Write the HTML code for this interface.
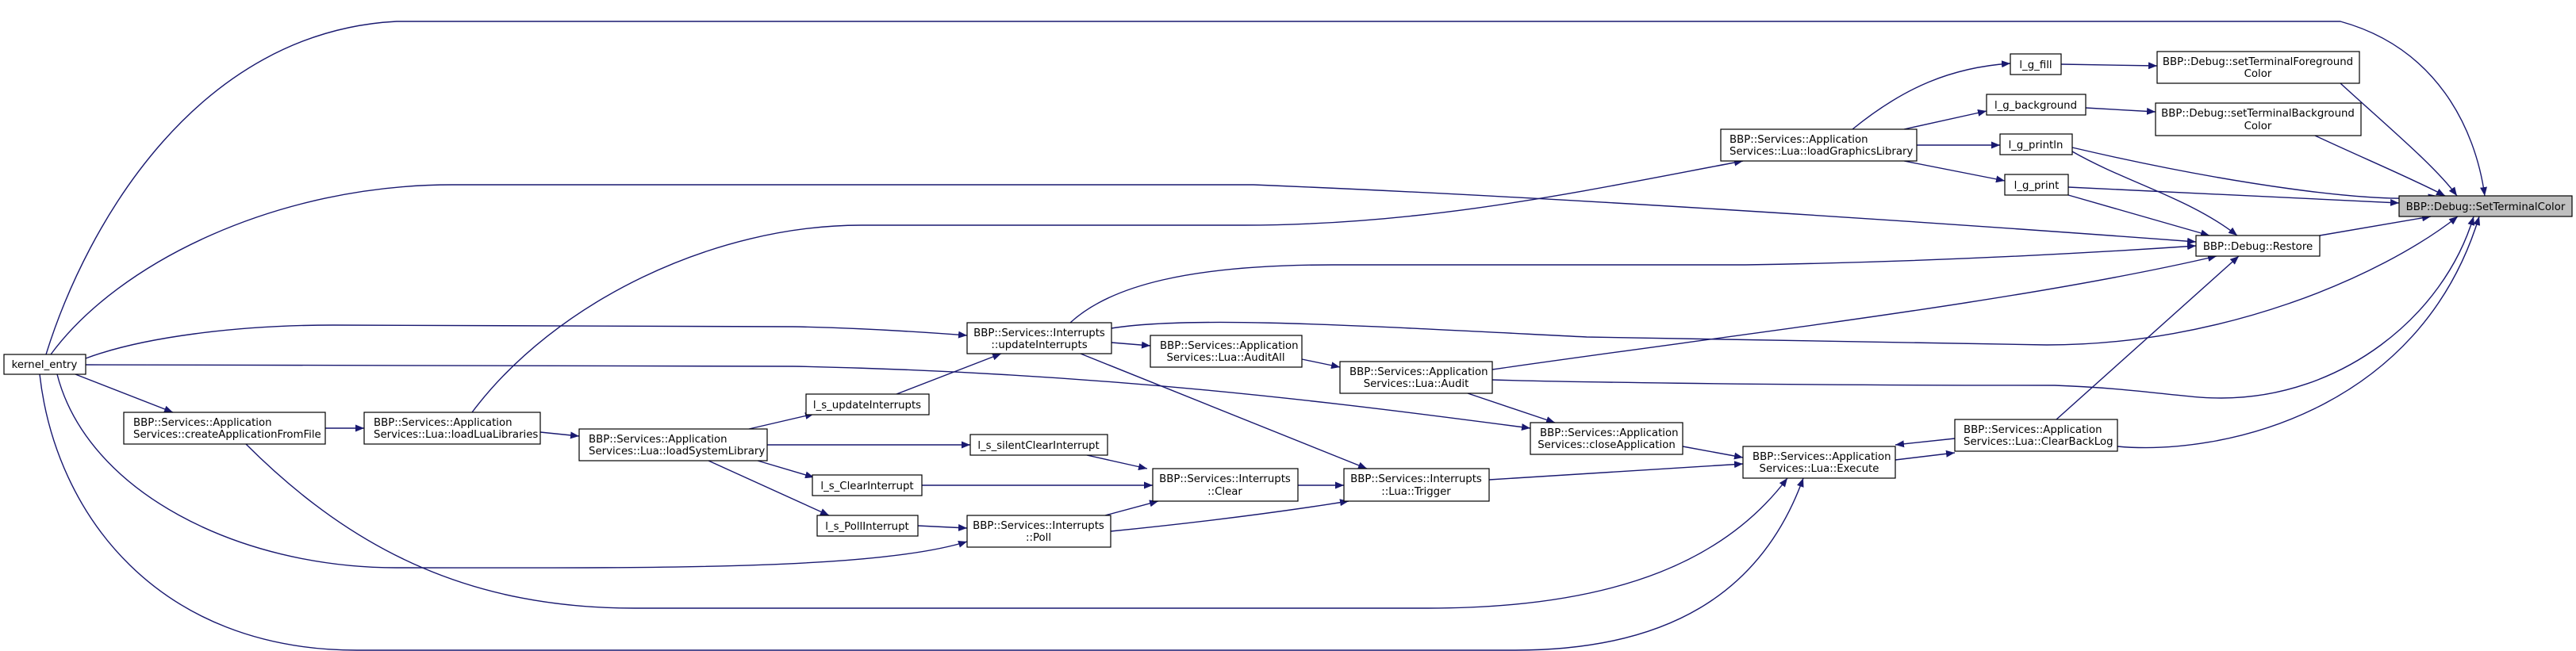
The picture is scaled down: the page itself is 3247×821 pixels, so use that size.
<!DOCTYPE html>
<html><head><meta charset="utf-8"><style>
html,body{margin:0;padding:0;background:#fff}
svg{display:block}
text{font-family:"DejaVu Sans","Liberation Sans",sans-serif;font-size:13.3px;fill:#000}
.e{fill:none;stroke:#191970;stroke-width:1.4;marker-end:url(#a)}
rect{fill:#fff;stroke:#000;stroke-width:1.2}
</style></head><body>
<svg width="3247" height="821" viewBox="0 0 3247 821" xmlns="http://www.w3.org/2000/svg">
<defs><marker id="a" markerUnits="userSpaceOnUse" markerWidth="12" markerHeight="9" refX="11" refY="4.5" orient="auto"><path d="M0,0 L11,4.5 L0,9 z" fill="#191970"/></marker></defs>
<g>
<path class="e" d="M58,447 C110,280 250,40 500,27 L2950,27 C3070,60 3120,160 3132,247"/>
<path class="e" d="M64,447 C150,330 350,233 570,233 L1580,233 C2000,250 2500,285 2768,305"/>
<path class="e" d="M108,452 C180,425 300,410 420,410 L1000,412 C1100,414 1180,420 1219,423"/>
<path class="e" d="M108,460 L1000,462 C1400,470 1700,510 1929,540"/>
<path class="e" d="M95,472 L218,520"/>
<path class="e" d="M72,472 C110,620 300,716 500,716 C800,716 1100,720 1219,683"/>
<path class="e" d="M50,472 C70,650 200,820 450,820 L1910,820 C2100,820 2220,750 2273,603"/>
<path class="e" d="M310,560 C450,700 600,767 800,767 L1800,767 C2050,767 2180,700 2253,603"/>
<path class="e" d="M410,540 L459,540"/>
<path class="e" d="M681,545 L730,550"/>
<path class="e" d="M595,520 C700,380 900,284 1086,284 L1568,284 C1800,284 2000,240 2197,203"/>
<path class="e" d="M944,541 L1026,522"/>
<path class="e" d="M967,561 L1223,561"/>
<path class="e" d="M955,581 L1026,602"/>
<path class="e" d="M893,581 L1045,650"/>
<path class="e" d="M1130,497 L1262,446"/>
<path class="e" d="M1370,574 L1446,591"/>
<path class="e" d="M1162,612 L1453,612"/>
<path class="e" d="M1157,663 L1219,666"/>
<path class="e" d="M1393,650 L1460,632"/>
<path class="e" d="M1400,670 C1550,655 1650,640 1700,632"/>
<path class="e" d="M1636,612 L1694,612"/>
<path class="e" d="M1401,432 L1450,436"/>
<path class="e" d="M1349,407 C1400,360 1500,334 1680,334 L2200,334 C2450,330 2650,318 2768,310"/>
<path class="e" d="M1401,414 C1500,398 1700,410 2000,425 L2580,435 C2800,435 3000,350 3098,273"/>
<path class="e" d="M1362,446 L1723,591"/>
<path class="e" d="M1641,453 L1689,463"/>
<path class="e" d="M1881,466 C2200,420 2550,380 2794,323"/>
<path class="e" d="M1881,479 C1950,481 2200,486 2590,486 C2700,490 2750,502 2800,502 C2950,502 3080,400 3118,273"/>
<path class="e" d="M1850,496 L1960,533"/>
<path class="e" d="M2121,563 L2197,577"/>
<path class="e" d="M1877,605 L2197,585"/>
<path class="e" d="M2389,580 L2464,571"/>
<path class="e" d="M2464,553 L2389,561"/>
<path class="e" d="M2592,529 L2822,323"/>
<path class="e" d="M2669,563 C2800,575 3050,520 3125,273"/>
<path class="e" d="M2924,297 L3064,273"/>
<path class="e" d="M2607,246 L2785,297"/>
<path class="e" d="M2612,191 C2680,230 2760,250 2820,297"/>
<path class="e" d="M2607,236 L3024,256"/>
<path class="e" d="M2612,186 C2800,230 3000,260 3072,247"/>
<path class="e" d="M2950,105 C3010,160 3070,210 3097,247"/>
<path class="e" d="M2918,171 C2980,200 3040,225 3082,247"/>
<path class="e" d="M2335,163 C2400,110 2460,85 2534,80"/>
<path class="e" d="M2400,163 L2504,140"/>
<path class="e" d="M2416,183 L2521,183"/>
<path class="e" d="M2400,203 L2527,228"/>
<path class="e" d="M2598,81 L2719,83"/>
<path class="e" d="M2629,136 L2717,141"/>
</g>
<g>
<rect x="5" y="447" width="103" height="25"/><text x="56" y="464" text-anchor="middle">kernel_entry</text>
<rect x="156" y="520" width="254" height="40"/><text x="168" y="537">BBP::Services::Application</text><text x="168" y="552">Services::createApplicationFromFile</text>
<rect x="459" y="520" width="222" height="40"/><text x="471" y="537">BBP::Services::Application</text><text x="471" y="552">Services::Lua::loadLuaLibraries</text>
<rect x="730" y="541" width="237" height="40"/><text x="742" y="558">BBP::Services::Application</text><text x="742" y="573">Services::Lua::loadSystemLibrary</text>
<rect x="1016" y="497" width="155" height="26"/><text x="1093" y="515" text-anchor="middle">l_s_updateInterrupts</text>
<rect x="1223" y="548" width="173" height="26"/><text x="1309" y="566" text-anchor="middle">l_s_silentClearInterrupt</text>
<rect x="1024" y="599" width="138" height="26"/><text x="1093" y="617" text-anchor="middle">l_s_ClearInterrupt</text>
<rect x="1030" y="650" width="127" height="26"/><text x="1093" y="668" text-anchor="middle">l_s_PollInterrupt</text>
<rect x="1219" y="407" width="182" height="39"/><text x="1310" y="424" text-anchor="middle">BBP::Services::Interrupts</text><text x="1310" y="439" text-anchor="middle">::updateInterrupts</text>
<rect x="1450" y="423" width="191" height="40"/><text x="1462" y="440">BBP::Services::Application</text><text x="1545" y="455" text-anchor="middle">Services::Lua::AuditAll</text>
<rect x="1689" y="456" width="192" height="40"/><text x="1701" y="473">BBP::Services::Application</text><text x="1785" y="488" text-anchor="middle">Services::Lua::Audit</text>
<rect x="1453" y="591" width="183" height="41"/><text x="1544" y="608" text-anchor="middle">BBP::Services::Interrupts</text><text x="1544" y="624" text-anchor="middle">::Clear</text>
<rect x="1219" y="650" width="181" height="40"/><text x="1309" y="667" text-anchor="middle">BBP::Services::Interrupts</text><text x="1309" y="682" text-anchor="middle">::Poll</text>
<rect x="1694" y="591" width="183" height="41"/><text x="1785" y="608" text-anchor="middle">BBP::Services::Interrupts</text><text x="1785" y="624" text-anchor="middle">::Lua::Trigger</text>
<rect x="1929" y="533" width="192" height="40"/><text x="1941" y="550">BBP::Services::Application</text><text x="2025" y="565" text-anchor="middle">Services::closeApplication</text>
<rect x="2197" y="563" width="192" height="40"/><text x="2209" y="580">BBP::Services::Application</text><text x="2293" y="595" text-anchor="middle">Services::Lua::Execute</text>
<rect x="2464" y="529" width="205" height="40"/><text x="2475" y="546">BBP::Services::Application</text><text x="2475" y="561">Services::Lua::ClearBackLog</text>
<rect x="2169" y="163" width="247" height="40"/><text x="2180" y="180">BBP::Services::Application</text><text x="2180" y="195">Services::Lua::loadGraphicsLibrary</text>
<rect x="2534" y="68" width="64" height="26"/><text x="2566" y="86" text-anchor="middle">l_g_fill</text>
<rect x="2504" y="119" width="125" height="26"/><text x="2566" y="137" text-anchor="middle">l_g_background</text>
<rect x="2521" y="169" width="91" height="26"/><text x="2566" y="187" text-anchor="middle">l_g_println</text>
<rect x="2527" y="220" width="80" height="26"/><text x="2567" y="238" text-anchor="middle">l_g_print</text>
<rect x="2719" y="65" width="255" height="40"/><text x="2846" y="82" text-anchor="middle">BBP::Debug::setTerminalForeground</text><text x="2846" y="97" text-anchor="middle">Color</text>
<rect x="2717" y="130" width="259" height="41"/><text x="2846" y="147" text-anchor="middle">BBP::Debug::setTerminalBackground</text><text x="2846" y="163" text-anchor="middle">Color</text>
<rect x="2768" y="297" width="156" height="26"/><text x="2846" y="315" text-anchor="middle">BBP::Debug::Restore</text>
<rect x="3024" y="247" width="218" height="26" style="fill:#bfbfbf"/><text x="3133" y="265" text-anchor="middle">BBP::Debug::SetTerminalColor</text>
</g>
</svg>
</body></html>
